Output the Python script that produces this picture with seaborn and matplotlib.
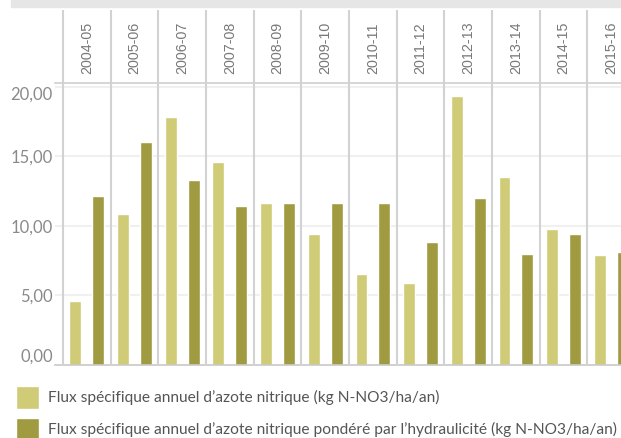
import pandas as pd
import matplotlib
matplotlib.use("Agg")
import matplotlib.pyplot as plt
import seaborn as sns

# Data
saisons = ["2004-05", "2005-06", "2006-07", "2007-08", "2008-09", "2009-10",
           "2010-11", "2011-12", "2012-13", "2013-14", "2014-15", "2015-16"]
flux = [4.60, 10.85, 17.82, 14.58, 11.64, 9.41, 6.54, 5.89, 19.32, 13.50, 9.77, 7.90]
flux_pondere = [12.14, 16.02, 13.29, 11.42, 11.64, 11.64, 11.64, 8.84, 12.00, 7.97, 9.41, 8.12]
series = [
    "Flux spécifique annuel d\u2019azote nitrique (kg N-NO3/ha/an)",
    "Flux spécifique annuel d\u2019azote nitrique pondéré par l\u2019hydraulicité (kg N-NO3/ha/an)",
]
couleurs = ["#cfcb77", "#a09b40"]

df = pd.DataFrame({
    "saison": saisons * 2,
    "valeur": flux + flux_pondere,
    "serie": [series[0]] * len(saisons) + [series[1]] * len(saisons),
})

sns.set_theme(style="white")
plt.rcParams["font.family"] = ["Lato", "DejaVu Sans"]

W, H = 621, 438
fig = plt.figure(figsize=(W / 100, H / 100), dpi=100)
ax = fig.add_axes([55 / W, 73 / H, (W - 55) / W, (365 - 83) / H])

sns.barplot(data=df, x="saison", y="valeur", hue="serie", order=saisons,
            hue_order=series, palette=couleurs, width=0.96, gap=0.48,
            saturation=1, ax=ax)

ymax = 20.26
ax.set_ylim(0, ymax)
ax.set_xlim(-0.5 - 8 / 47.65, 10.5 + (W - 587.45) / 47.65)

# grid
for v in [5, 10, 15, 20]:
    ax.axhline(v, color="#f0f0f0", lw=1.5, zorder=0)

for s in ["left", "right"]:
    ax.spines[s].set_visible(False)
ax.spines["bottom"].set_color("#c8c8c8")
ax.spines["bottom"].set_linewidth(1.2)
ax.spines["top"].set_color("#d0d0d0")
ax.spines["top"].set_linewidth(1.2)

# panel separators, running up into the header
px = ymax / (365 - 83)
ytop = (365 - 10) * px
ax.vlines([i - 0.5 for i in range(len(saisons))], 0, ytop, color="#d2d2d2",
          lw=1.5, clip_on=False, zorder=3)

# header labels
for i, s in enumerate(saisons):
    ax.text(i, (365 - 74) * px, s, rotation=90, ha="center", va="bottom",
            fontsize=10.3, color="#787878", family=["Liberation Sans", "DejaVu Sans"],
            clip_on=False)

ax.set_xticks([])
ax.set_xlabel("")
ax.set_ylabel("")
ax.set_yticks([0, 5, 10, 15, 20])
ax.set_yticklabels([f"{v:.2f}".replace(".", ",") for v in [0, 5, 10, 15, 20]],
                   fontsize=12, color="#8a8a8a")
ax.tick_params(axis="y", length=0, pad=1.5)
labs = ax.get_yticklabels()
labs[0].set_va("bottom")
labs[-1].set_va("top")

# top grey band
fig.patches.append(plt.Rectangle((11 / W, 1 - 7 / H), 1, 7 / H, transform=fig.transFigure,
                                 color="#e6e6e6", zorder=0))

handles, labels = ax.get_legend_handles_labels()
ax.get_legend().remove()
fs = 11.2
fpx = fs * 100 / 72
# matplotlib shrinks the handle box by a descent term; solve for a 23 px swatch
hh = (23 - 0.245 * fpx) / (0.65 * fpx)
fig.legend(handles, labels, loc="upper left", bbox_to_anchor=(16 / W, 1 - 386 / H),
           frameon=False, fontsize=fs, handlelength=23 / fpx, handleheight=hh,
           handletextpad=9 / fpx, labelspacing=8.7 / fpx, borderpad=0, borderaxespad=0,
           labelcolor="#555555")

fig.savefig("out.png", dpi=100)
